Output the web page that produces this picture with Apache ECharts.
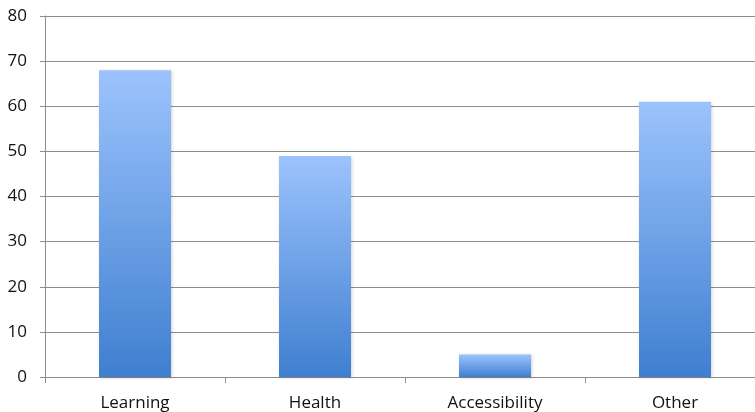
<!DOCTYPE html>
<html>
<head>
<meta charset="utf-8">
<script src="https://cdn.jsdelivr.net/npm/echarts@6/dist/echarts.min.js"></script>
<style>
  html, body { margin: 0; padding: 0; background: #fff; overflow: hidden; }
  /* the plot area runs slightly past the right edge of the window */
  #chart { width: 765px; height: 412px; }
</style>
</head>
<body>
<div id="chart"></div>
<script>
// Chart data
const categories = ['Learning', 'Health', 'Accessibility', 'Other'];
const values = [68, 49, 5, 61];
const yTicks = { min: 0, max: 80, interval: 10 };

const chart = echarts.init(document.getElementById('chart'));
const font = '"Open Sans", Lato, sans-serif';

chart.setOption({
  animation: false,
  grid: { left: 45, right: 0, top: 16, bottom: 35 },
  xAxis: {
    type: 'category',
    data: categories,
    boundaryGap: true,
    axisLine: { lineStyle: { color: '#8c8c8c', width: 1 } },
    axisTick: { show: true, length: 6, lineStyle: { color: '#8c8c8c' } },
    axisLabel: { color: '#111', fontFamily: font, fontSize: 17, margin: 18 }
  },
  yAxis: {
    type: 'value',
    min: yTicks.min,
    max: yTicks.max,
    interval: yTicks.interval,
    axisLine: { show: true, lineStyle: { color: '#8c8c8c', width: 1 } },
    axisTick: { show: true, length: 5, lineStyle: { color: '#8c8c8c' } },
    axisLabel: { color: '#111', fontFamily: font, fontSize: 17, margin: 18 },
    splitLine: { lineStyle: { color: '#8c8c8c', width: 1 } }
  },
  series: [{
    type: 'bar',
    data: values,
    barWidth: '40%',
    itemStyle: {
      color: new echarts.graphic.LinearGradient(0, 0, 0, 1, [
        { offset: 0, color: '#9cc3fd' },
        { offset: 1, color: '#3f7fd0' }
      ]),
      shadowColor: 'rgba(0,0,0,0.18)',
      shadowBlur: 3,
      shadowOffsetX: 1,
      shadowOffsetY: 1
    }
  }]
});
</script>
</body>
</html>
